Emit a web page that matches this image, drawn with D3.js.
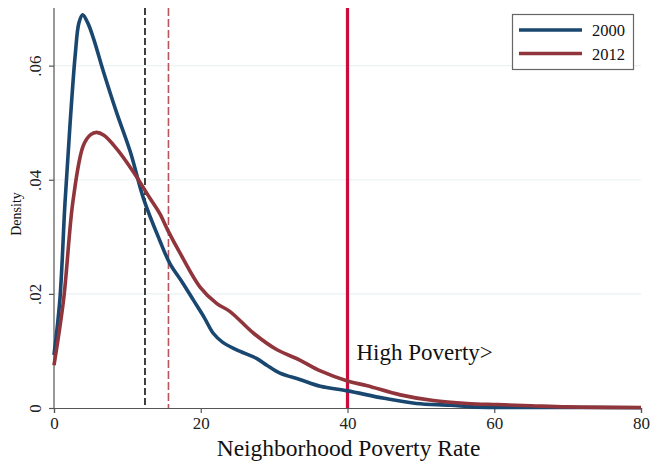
<!DOCTYPE html>
<html>
<head>
<meta charset="utf-8">
<script src="https://cdn.jsdelivr.net/npm/d3@7"></script>
<style>
  html, body { margin: 0; padding: 0; background: #fff; }
  svg { display: block; font-family: "Liberation Serif", "Times New Roman", serif; }
</style>
</head>
<body>
<svg id="chart" width="653" height="465"></svg>
<script>
// Kernel density of neighborhood poverty rates, 2000 vs 2012
const poverty2000 = [0, 0.8, 1.5, 2.2, 2.9, 3.4, 3.9, 4.6, 5.4, 6.7, 8.5, 10.4, 12.2, 14.4, 15.8, 17.5, 19, 20.5, 21.7, 23, 24.9, 27.6, 29, 30.8, 33.5, 36.3, 40, 45, 49.4, 54, 57, 60, 70, 80];
const density2000 = [.0093, .019, .036, .050, .062, .0675, .0689, .0675, .0647, .0591, .0519, .0449, .0367, .0294, .0253, .0220, .0189, .0158, .0131, .0115, .0102, .0087, .0075, .0061, .0050, .0038, .0030, .0017, .0008, .0005, .0002, .0001, .0001, .00005];

const poverty2012 = [0, 1.3, 2.6, 4.0, 5.0, 5.8, 6.8, 8.5, 10.8, 13.1, 14.4, 15.6, 17.2, 19.9, 22.2, 24, 27.2, 30.4, 33.5, 36.3, 40.1, 42.7, 47.2, 51.7, 56.3, 60.4, 65, 70, 80];
const density2012 = [.0075, .0189, .0364, .046, .0479, .0483, .0478, .0455, .0414, .0367, .0341, .0309, .0271, .0212, .0183, .0169, .0131, .0102, .0084, .0065, .0047, .0039, .0023, .0013, .0008, .0006, .0004, .0002, .0001];

const seriesNames = ["2000", "2012"];
const seriesColors = ["#1a476f", "#90353b"];

const xTicks = [0, 20, 40, 60, 80];
const yTicks = [0, 0.02, 0.04, 0.06];
const yTickLabels = ["0", ".02", ".04", ".06"];

// Reference lines: mean poverty rate per year and the high-poverty cutoff
const mean2000 = 12.4;
const mean2012 = 15.6;
const highPovertyCutoff = 40;

const svg = d3.select("#chart");
const plotLeft = 54, plotRight = 641, plotTop = 8, plotBottom = 408;

const x = d3.scaleLinear().domain([0, 80]).range([plotLeft, plotRight]);
const y = d3.scaleLinear().domain([0, 0.0701]).range([plotBottom, plotTop]);

// Gridlines
svg.append("g")
  .selectAll("line")
  .data(yTicks.filter(d => d > 0))
  .join("line")
  .attr("x1", plotLeft).attr("x2", plotRight)
  .attr("y1", d => y(d)).attr("y2", d => y(d))
  .attr("stroke", "#eaf2f3").attr("stroke-width", 1.2);

// Axes
const xAxis = svg.append("g")
  .attr("transform", `translate(0,${plotBottom})`)
  .call(d3.axisBottom(x).tickValues(xTicks).tickSize(5).tickPadding(4).tickFormat(d3.format("d")));
xAxis.select(".domain").attr("stroke", "#555").attr("stroke-width", 1.2);
xAxis.selectAll(".tick line").attr("stroke", "#555").attr("stroke-width", 1.2);
xAxis.selectAll(".tick text")
  .attr("font-family", "Liberation Serif").attr("font-size", 17).attr("fill", "#222");

const yAxis = svg.append("g")
  .attr("transform", `translate(${plotLeft},0)`)
  .call(d3.axisLeft(y).tickValues(yTicks).tickSize(5).tickFormat((d, i) => yTickLabels[i]));
yAxis.select(".domain").attr("stroke", "#555").attr("stroke-width", 1.2)
  .attr("d", `M0,${plotTop}V${plotBottom}`);
yAxis.selectAll(".tick line").attr("stroke", "#555").attr("stroke-width", 1.2);
yAxis.selectAll(".tick text")
  .attr("font-family", "Liberation Serif").attr("font-size", 17).attr("fill", "#222")
  .attr("x", null).attr("dy", null)
  .attr("text-anchor", "middle")
  .attr("transform", "translate(-13,0) rotate(-90)");

// Axis titles
svg.append("text")
  .attr("x", (plotLeft + plotRight) / 2 + 1).attr("y", 456)
  .attr("text-anchor", "middle")
  .attr("font-size", 23.5).attr("fill", "#111")
  .text("Neighborhood Poverty Rate");

svg.append("text")
  .attr("transform", `translate(21,${(plotTop + plotBottom) / 2 + 6}) rotate(-90)`)
  .attr("text-anchor", "middle")
  .attr("font-size", 14).attr("fill", "#111")
  .text("Density");

// Vertical reference lines
svg.append("line")
  .attr("x1", x(mean2000)).attr("x2", x(mean2000))
  .attr("y1", plotTop).attr("y2", plotBottom)
  .attr("stroke", "#111").attr("stroke-width", 1.6)
  .attr("stroke-dasharray", "7,3");

svg.append("line")
  .attr("x1", x(mean2012)).attr("x2", x(mean2012))
  .attr("y1", plotTop).attr("y2", plotBottom)
  .attr("stroke", "#b8565e").attr("stroke-width", 1.6)
  .attr("stroke-dasharray", "8,3");

svg.append("line")
  .attr("x1", x(highPovertyCutoff)).attr("x2", x(highPovertyCutoff))
  .attr("y1", plotTop).attr("y2", plotBottom)
  .attr("stroke", "#cc0a3c").attr("stroke-width", 3.2);

svg.append("text")
  .attr("x", x(highPovertyCutoff) + 9).attr("y", 360)
  .attr("font-size", 23).attr("fill", "#111")
  .text("High Poverty>");

// Density curves
const line = d3.line()
  .x(d => x(d[0]))
  .y(d => y(d[1]))
  .curve(d3.curveCatmullRom.alpha(0.5));

const series = [
  d3.zip(poverty2000, density2000),
  d3.zip(poverty2012, density2012)
];

svg.append("g")
  .selectAll("path")
  .data(series)
  .join("path")
  .attr("d", line)
  .attr("fill", "none")
  .attr("stroke", (d, i) => seriesColors[i])
  .attr("stroke-width", 3.6)
  .attr("stroke-linejoin", "round");

// Legend
const legend = svg.append("g");
legend.append("rect")
  .attr("x", 512.5).attr("y", 14.5).attr("width", 121).attr("height", 55)
  .attr("fill", "#fff").attr("stroke", "#666").attr("stroke-width", 1.2);

const items = legend.selectAll("g.item")
  .data(seriesNames)
  .join("g")
  .attr("class", "item")
  .attr("transform", (d, i) => `translate(0,${30 + i * 23.5})`);
items.append("line")
  .attr("x1", 519).attr("x2", 582)
  .attr("stroke", (d, i) => seriesColors[i]).attr("stroke-width", 3.6);
items.append("text")
  .attr("x", 592).attr("y", 6)
  .attr("font-size", 16.5).attr("fill", "#111")
  .text(d => d);
</script>
</body>
</html>
